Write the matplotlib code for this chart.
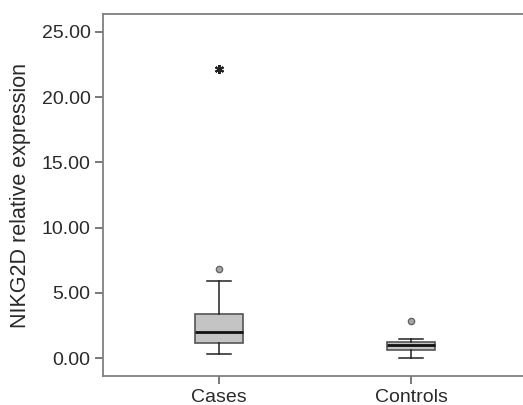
"""
Boxplot of NIKG2D relative expression, cases vs controls
"""

import matplotlib
matplotlib.use("Agg")
import matplotlib.pyplot as plt

plt.rcParams['font.family'] = ['Liberation Sans', 'DejaVu Sans']

# Values
groups = ['Cases', 'Controls']
medians = [2.0, 1.0]
q1 = [1.15, 0.62]
q3 = [3.37, 1.25]
whisker_low = [0.3, 0.02]
whisker_high = [5.9, 1.46]
outliers = [[6.8], [2.84]]      # circles
extremes = [[22.2], []]         # asterisks

stats = []
for i, name in enumerate(groups):
    stats.append({
        'label': name,
        'med': medians[i],
        'q1': q1[i],
        'q3': q3[i],
        'whislo': whisker_low[i],
        'whishi': whisker_high[i],
        'fliers': outliers[i],
    })

fig = plt.figure(figsize=(5.23, 4.05), dpi=100)
# right edge of the frame sits just past the image border, as in the source
ax = fig.add_axes([103 / 523, 1 - 376 / 405, (527 - 103) / 523, (376 - 14) / 405])

positions = [1, 2]
ax.bxp(stats, positions=positions, widths=0.25, patch_artist=True,
       boxprops=dict(facecolor='#c4c4c4', edgecolor='#555555', linewidth=1.2),
       medianprops=dict(color='#111111', linewidth=2),
       whiskerprops=dict(color='#222222', linewidth=1.1),
       capprops=dict(color='#222222', linewidth=1.1),
       flierprops=dict(marker='o', markersize=4.5, markerfacecolor='#a8a8a8',
                       markeredgecolor='#666666', markeredgewidth=1.0))

for pos, vals in zip(positions, extremes):
    if vals:
        ax.plot([pos] * len(vals), vals, linestyle='none', marker=(6, 2, 0),
                markersize=6.5, markeredgewidth=1.5, color='#222222')

ax.set_xlim(0.396, 2.604)
ax.set_ylim(-1.38, 26.38)
ax.set_yticks([0, 5, 10, 15, 20, 25])
ax.set_yticklabels([f'{v:.2f}' for v in [0, 5, 10, 15, 20, 25]])
ax.set_xticks(positions)
ax.set_xticklabels(groups)

for side in ['left', 'bottom', 'top', 'right']:
    ax.spines[side].set_color('#808080')
    ax.spines[side].set_linewidth(1.3)

ax.tick_params(axis='both', colors='#555555', length=6, width=1.1,
               labelsize=14, labelcolor='#2a2a2a', pad=3)
ax.set_ylabel('NIKG2D relative expression', fontsize=15.5, color='#2a2a2a',
              labelpad=8)

plt.savefig('out.png', dpi=100)
